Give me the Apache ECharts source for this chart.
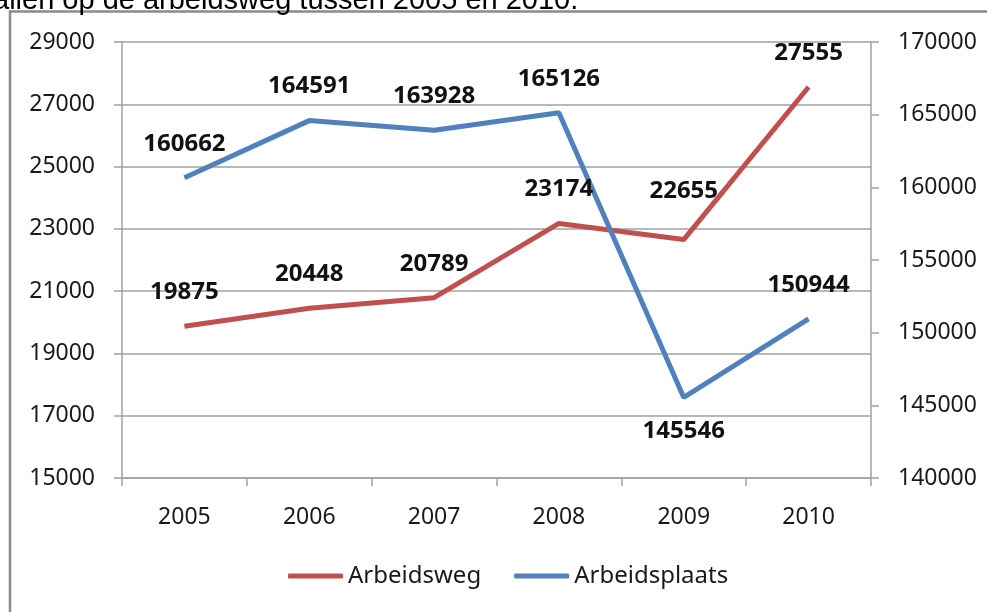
<!DOCTYPE html>
<html>
<head>
<meta charset="utf-8">
<script src="https://cdn.jsdelivr.net/npm/echarts@6/dist/echarts.min.js"></script>
<style>
  html, body { margin: 0; padding: 0; background: #fff; }
</style>
</head>
<body>
<div id="myChart" style="width: 987px; height: 612px;"></div>
<script>
  // data
  var years = ['2005', '2006', '2007', '2008', '2009', '2010'];
  var arbeidsweg = [19875, 20448, 20789, 23174, 22655, 27555];
  var arbeidsplaats = [160662, 164591, 163928, 165126, 145546, 150944];
  var leftRange = [15000, 29000, 2000];
  var rightRange = [140000, 170000, 5000];

  var axisGrey = '#a0a0a0';
  var txt = { fontFamily: 'Noto Sans', fontSize: 23, color: '#1a1a1a' };
  var valueLabel = { show: true, position: 'top', distance: 22, fontFamily: 'Noto Sans', fontSize: 24, fontWeight: 'bold', color: '#111' };
  var plain = function (v) { return String(v); };

  // red series: the 2009 label is pushed up a bit more in the original
  var redData = arbeidsweg.map(function (v, i) {
    if (years[i] === '2009') return { value: v, label: { distance: 36 } };
    return v;
  });
  // blue series: the 2009 label sits under the line
  var blueData = arbeidsplaats.map(function (v, i) {
    if (years[i] === '2009') return { value: v, label: { position: 'bottom', distance: 22 } };
    return v;
  });

  let myChart = echarts.init(document.getElementById('myChart'));

  myChart.setOption({
    animation: false,
    backgroundColor: '#fff',
    graphic: [
      {
        type: 'rect',
        shape: { x: 10, y: 11.5, width: 1000, height: 640 },
        style: { fill: 'none', stroke: '#8a8a8a', lineWidth: 2.5 }
      },
      {
        type: 'text',
        left: -7,
        top: -14,
        style: { text: 'allen op de arbeidsweg tussen 2005 en 2010.', fontFamily: 'Liberation Sans', fontSize: 29, fill: '#000' }
      }
    ],
    grid: { left: 122, right: 116, top: 42, bottom: 134 },
    legend: {
      bottom: 19,
      left: 283,
      itemWidth: 55,
      itemHeight: 5,
      itemGap: 33,
      icon: 'roundRect',
      textStyle: { fontFamily: 'Noto Sans', fontSize: 24, color: '#1a1a1a' },
      data: ['Arbeidsweg', 'Arbeidsplaats']
    },
    xAxis: {
      type: 'category',
      data: years,
      boundaryGap: true,
      axisLine: { lineStyle: { color: axisGrey, width: 1.5 } },
      axisTick: { show: true, length: 8, interval: 0, lineStyle: { color: axisGrey, width: 1.5 } },
      axisLabel: Object.assign({ margin: 28 }, txt)
    },
    yAxis: [
      {
        type: 'value',
        min: leftRange[0],
        max: leftRange[1],
        interval: leftRange[2],
        axisLine: { show: true, lineStyle: { color: axisGrey, width: 1.5 } },
        axisTick: { show: true, length: 8, lineStyle: { color: axisGrey, width: 1.5 } },
        splitLine: { show: true, lineStyle: { color: axisGrey, width: 1.5 } },
        axisLabel: Object.assign({ margin: 27, formatter: plain }, txt)
      },
      {
        type: 'value',
        position: 'right',
        min: rightRange[0],
        max: rightRange[1],
        interval: rightRange[2],
        axisLine: { show: true, lineStyle: { color: axisGrey, width: 1.5 } },
        axisTick: { show: true, length: 8, lineStyle: { color: axisGrey, width: 1.5 } },
        splitLine: { show: false },
        axisLabel: Object.assign({ margin: 27, formatter: plain }, txt)
      }
    ],
    series: [
      {
        name: 'Arbeidsweg',
        type: 'line',
        yAxisIndex: 0,
        data: redData,
        symbol: 'circle',
        symbolSize: 0,
        color: '#C0504D',
        lineStyle: { width: 5, color: '#C0504D' },
        label: valueLabel
      },
      {
        name: 'Arbeidsplaats',
        type: 'line',
        yAxisIndex: 1,
        data: blueData,
        symbol: 'circle',
        symbolSize: 0,
        color: '#4F81BD',
        lineStyle: { width: 5, color: '#4F81BD' },
        label: valueLabel
      }
    ]
  });
</script>
</body>
</html>
